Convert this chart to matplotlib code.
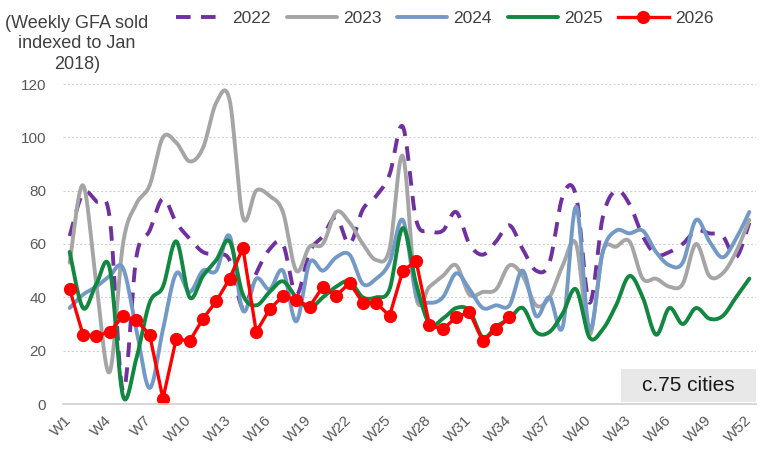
import numpy as np
import matplotlib
matplotlib.use("Agg")
import matplotlib.pyplot as plt
from matplotlib.patches import Rectangle

plt.rcParams['font.family'] = ['Liberation Sans', 'DejaVu Sans']
plt.rcParams['lines.scale_dashes'] = False

weeks = [f"W{i}" for i in range(1, 53)]
tick_labels = [f"W{i}" for i in range(1, 53, 3)]

y2022 = [63, 79, 76, 70, 5, 55, 65, 77, 68, 62, 57, 56, 54, 36, 49, 58, 60, 41, 57, 63,
         70, 60, 73, 78, 86, 104, 69, 65, 65, 72, 60, 56, 61, 67, 58, 50, 53, 78, 78, 38,
         70, 80, 75, 63, 56, 57, 60, 65, 64, 63, 55, 68]
y2023 = [53, 82, 45, 12, 60, 75, 82, 100, 98, 91, 96, 113, 114, 70, 80, 78, 72, 50, 59, 60,
         72, 68, 60, 54, 58, 93, 40, 44, 48, 52, 41, 42, 43, 52, 48, 37, 40, 52, 60, 26,
         57, 59, 61, 47, 47, 44, 45, 60, 48, 49, 57, 69]
y2024 = [36, 41, 44, 48, 51, 28, 6, 28, 49, 42, 50, 50, 63, 35, 47, 43, 50, 31, 53, 50,
         55, 56, 45, 47, 53, 69, 41, 38, 40, 49, 43, 36, 37, 37, 50, 33, 40, 29, 74, 28,
         57, 65, 64, 65, 57, 52, 53, 69, 61, 55, 62, 72]
y2025 = [57, 36, 45, 51, 3, 17, 38, 44, 61, 40, 48, 54, 61, 41, 37, 42, 46, 40, 36, 40,
         44, 46, 40, 40, 43, 66, 45, 30, 32, 36, 35, 25, 29, 32, 36, 27, 27, 34, 43, 25,
         28, 37, 48, 40, 26, 36, 30, 36, 32, 33, 40, 47]
y2026 = [43, 26, 25.5, 27, 33, 31.5, 26, 2, 24.5, 23.5, 32, 38.5, 47, 58.5, 27, 35.5, 40.5,
         39, 36.5, 44, 40.5, 45.5, 38, 38, 33, 50, 53.5, 29.5, 28, 32.5, 34.5, 23.5, 28, 32.5]

series_names = ["2022", "2023", "2024", "2025", "2026"]
colors = ["#7030A0", "#A5A5A5", "#7399C6", "#11873F", "#FF0000"]


def smooth(vals, n=24):
    """Excel-style smoothed line (Catmull-Rom Bezier) through the data points."""
    x = np.arange(1, len(vals) + 1, dtype=float)
    P = np.column_stack([x, np.asarray(vals, float)])
    E = np.vstack([P[0], P, P[-1]])
    out = []
    for i in range(len(P) - 1):
        p0, p1, p2, p3 = E[i], E[i + 1], E[i + 2], E[i + 3]
        c1 = p1 + (p2 - p0) / 6.0
        c2 = p2 - (p3 - p1) / 6.0
        t = np.linspace(0, 1, n, endpoint=(i == len(P) - 2))[:, None]
        out.append((1 - t) ** 3 * p1 + 3 * (1 - t) ** 2 * t * c1 + 3 * (1 - t) * t ** 2 * c2 + t ** 3 * p2)
    return np.vstack(out)


W, H = 761, 458
fig = plt.figure(figsize=(W / 100, H / 100), dpi=100)
ax = fig.add_axes([63 / W, 1 - 404 / H, (756 - 63) / W, (404 - 84) / H])

lw = 2.8
handles = []
for name, vals, c in zip(series_names[:4], [y2022, y2023, y2024, y2025], colors[:4]):
    s = smooth(vals)
    if name == "2022":
        h, = ax.plot(s[:, 0], s[:, 1], color=c, lw=lw, dashes=(10.5, 7.5), label=name)
    else:
        h, = ax.plot(s[:, 0], s[:, 1], color=c, lw=lw, label=name, solid_capstyle='round')
    handles.append(h)
h, = ax.plot(np.arange(1, len(y2026) + 1), y2026, color=colors[4], lw=2.4, marker='o',
             markersize=8.5, label="2026")
handles.append(h)

ax.set_xlim(0.5, 52.5)
ax.set_ylim(0, 120)
ax.set_yticks(range(0, 121, 20))
ax.set_xticks(range(1, 53, 3))
ax.set_xticklabels(tick_labels, rotation=45, ha='right', va='center', rotation_mode='anchor')
ax.tick_params(axis='both', length=0, labelsize=11, colors='#595959')
ax.tick_params(axis='y', pad=12)
ax.tick_params(axis='x', pad=10)
for sp in ['top', 'right', 'left']:
    ax.spines[sp].set_visible(False)
ax.spines['bottom'].set_color('#D0D0D0')
ax.spines['bottom'].set_linewidth(1.2)
ax.yaxis.grid(True, color='#D0D0D0', linestyle=(0, (1.5, 1.5)), linewidth=0.8)
ax.set_axisbelow(True)

fig.text(77 / W, 1 - 44 / H, "(Weekly GFA sold\nindexed to Jan\n2018)", ha='center', va='center',
         fontsize=13, color='#404040', linespacing=1.3)

fig.legend(handles=handles, labels=series_names, loc='center left',
           bbox_to_anchor=(176 / W, 1 - 18 / H), ncol=5, frameon=False, fontsize=12.5,
           handlelength=2.9, handletextpad=0.35, columnspacing=0.9, borderpad=0,
           borderaxespad=0, labelcolor='#404040', numpoints=1)

fig.add_artist(Rectangle((621 / W, 1 - 402 / H), 135 / W, 33 / H, transform=fig.transFigure,
                         facecolor='#E8E8E8', edgecolor='none', zorder=5))
fig.text(688.5 / W, 1 - 385.5 / H, "c.75 cities", ha='center', va='center', fontsize=15,
         color='#1A1A1A', zorder=6)

fig.savefig("out.png", dpi=100)
